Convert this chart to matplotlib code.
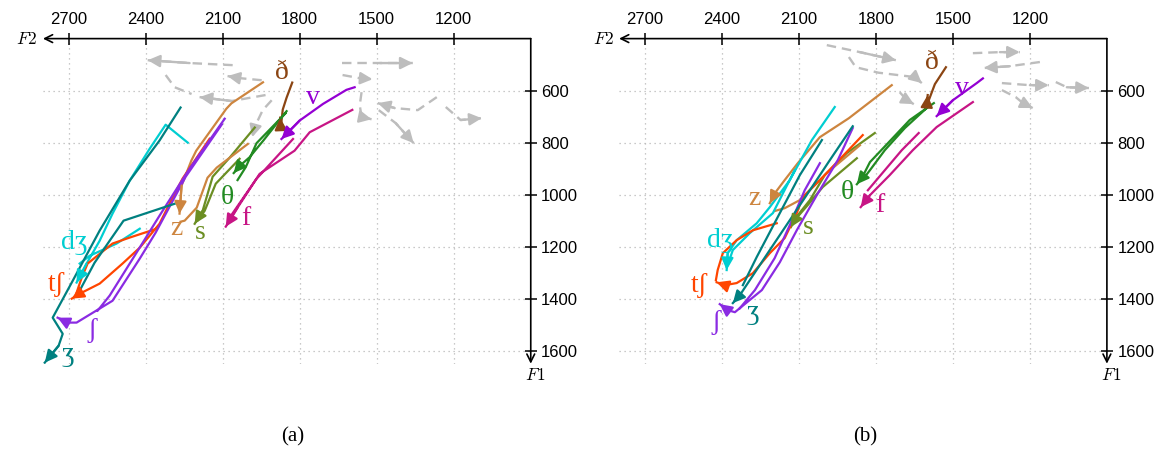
import numpy as np
import matplotlib
matplotlib.use("Agg")
import matplotlib.pyplot as plt

NAN = (np.nan, np.nan)

# F2 / F1 ticks (Hz)
F2_TICKS = [2700, 2400, 2100, 1800, 1500, 1200]
F1_TICKS = [600, 800, 1000, 1200, 1400, 1600]

PHONEMES = ['ð', 'v', 'f', 'θ', 's', 'z', 'dʒ', 'tʃ', 'ʃ', 'ʒ']

# ---- panel (a): trajectories as (F2, F1) pairs, arrow at the last point
A_DH = [(1829, 569), (1851, 627), (1866, 673), (1874, 746), (1876, 704)]
A_V = [(1586, 587), (1618, 597), (1709, 651), (1800, 715), (1871, 786)]
A_F = [(1826, 786), (1969, 940), (2065, 1077), NAN,
       (1595, 674), (1761, 760), (1820, 831), (1956, 920), (2042, 1050), (2088, 1123)]
A_TH = [(1855, 687), (1968, 802), (2010, 894), (2042, 944), NAN,
        (1851, 679), (1940, 790), (1995, 856), (2034, 890), (2057, 917)]
A_S = [(2034, 862), (2127, 958), (2170, 1062), (2198, 1100), NAN,
       (1975, 742), (2073, 858), (2139, 931), (2178, 1062), (2209, 1112)]
A_Z = [(2002, 805), (2123, 896), (2159, 935), (2201, 1050), (2248, 1100), (2264, 1104), NAN,
       (1943, 568), (2066, 649), (2086, 670), (2203, 831), (2222, 869), (2260, 965), (2268, 1073)]
A_DZH = [(2423, 1131), (2513, 1188), (2618, 1235), (2657, 1265), NAN,
         (2236, 800), (2322, 731), (2384, 823), (2462, 946), (2529, 1073), (2579, 1177),
         (2630, 1265), (2669, 1338)]
A_TSH = [(2357, 1131), (2462, 1165), (2529, 1188), (2626, 1265), (2649, 1319), (2669, 1377), NAN,
         (2151, 785), (2256, 938), (2307, 1035), (2346, 1112), (2423, 1204), (2490, 1265),
         (2579, 1342), (2657, 1381), (2688, 1400)]
A_SH = [(2092, 708), (2229, 900), (2346, 1081), (2443, 1235), (2540, 1388), (2587, 1446), NAN,
        (2104, 731), (2244, 931), (2361, 1146), (2423, 1246), (2529, 1408), (2669, 1492),
        (2704, 1492), (2743, 1473)]
A_ZH = [(2287, 1035), (2486, 1100), (2540, 1177), (2599, 1262), (2657, 1369), NAN,
        (2264, 665), (2346, 792), (2462, 946), (2579, 1138), (2684, 1331), (2762, 1473),
        (2723, 1535), (2739, 1581), (2793, 1646)]

# vowel trajectories (grey dashed), panel (a)
A_GREY = [
    [(2061, 502), (2229, 494), (2392, 483)],
    [(1948, 560), (2034, 552), (2081, 544)],
    [(2322, 540), (2287, 587), (2221, 613), NAN, (1933, 617), (2065, 640), (2190, 625)],
    [(1909, 637), (1944, 675), (1972, 733), (1985, 779)],
    [(1637, 494), (1488, 494), (1360, 494)],
    [(1633, 540), (1567, 552), (1516, 556)],
    [(1559, 606), (1566, 656), (1559, 702), (1520, 710)],
    [(1266, 625), (1340, 675), (1430, 667), (1496, 648)],
    [(1492, 675), (1426, 725), (1356, 802)],
    [(1231, 663), (1173, 713), (1091, 706)],
]

# ---- panel (b)
B_DH = [(1527, 510), (1570, 575), (1601, 656), (1598, 617)]
B_V = [(1383, 553), (1407, 571), (1500, 637), (1563, 698)]
B_F = [(1633, 763), (1699, 829), (1765, 906), (1831, 983), NAN,
       (1422, 644), (1563, 740), (1656, 829), (1746, 925), (1823, 1002), (1859, 1048)]
B_TH = [(1590, 656), (1687, 744), (1765, 829), (1823, 906), (1847, 937), NAN,
        (1574, 648), (1668, 713), (1753, 802), (1823, 875), (1855, 937), (1874, 960)]
B_S = [(1874, 860), (2007, 971), (2065, 1040), (2116, 1098), NAN,
       (1804, 763), (1913, 840), (1999, 925), (2057, 1021), (2104, 1079), (2131, 1125)]
B_Z = [(1862, 810), (1991, 917), (2096, 1021), (2155, 1052), (2194, 1063), NAN,
       (1738, 579), (1905, 706), (2018, 779), (2104, 879), (2155, 944), (2190, 990), (2213, 1033)]
B_DZH = [(2116, 906), (2201, 1071), (2291, 1148), (2357, 1213), (2377, 1271), NAN,
         (1960, 663), (2049, 790), (2135, 944), (2213, 1048), (2264, 1110), (2342, 1175),
         (2377, 1225), (2381, 1290)]
B_TSH = [(2186, 1110), (2279, 1137), (2342, 1175), (2396, 1225), (2416, 1290), (2423, 1329), NAN,
         (1851, 771), (2007, 933), (2085, 1010), (2108, 1071), (2155, 1167), (2213, 1225),
         (2279, 1302), (2342, 1340), (2388, 1348), (2420, 1337)]
B_SH = [(2018, 879), (2077, 983), (2135, 1117), (2194, 1244), (2271, 1367), (2330, 1437), NAN,
        (1890, 744), (1948, 867), (2030, 1002), (2108, 1137), (2174, 1260), (2244, 1367),
        (2349, 1452), (2377, 1444), (2408, 1421)]
B_ZH = [(2010, 790), (2096, 925), (2174, 1071), (2264, 1240), (2318, 1348), NAN,
        (1890, 737), (1979, 867), (2057, 983), (2135, 1098), (2213, 1213), (2291, 1329),
        (2330, 1387), (2357, 1417)]

B_GREY = [
    [(1991, 425), (1862, 452), (1722, 483)],
    [(1905, 471), (1878, 510), (1790, 531), (1648, 548), (1621, 571)],
    [(1707, 606), (1679, 637), (1652, 652)],
    [(1422, 456), (1317, 452), (1239, 452)],
    [(1161, 490), (1278, 506), (1379, 513)],
    [(1309, 571), (1200, 579), (1126, 579)],
    [(1099, 567), (1056, 587), (970, 590)],
    [(1309, 598), (1255, 625), (1227, 648), (1189, 667)],
]

A_TRAJ = [A_DH, A_V, A_F, A_TH, A_S, A_Z, A_DZH, A_TSH, A_SH, A_ZH]
B_TRAJ = [B_DH, B_V, B_F, B_TH, B_S, B_Z, B_DZH, B_TSH, B_SH, B_ZH]

COLORS = ['#8b4513', '#9400d3', '#c71585', '#228b22', '#6b8e23',
          '#cd853f', '#00ced1', '#ff4500', '#8a2be2', '#008080']

# label positions (F2, F1)
A_LABEL_POS = [(1870, 529), (1750, 625), (2010, 1090), (2081, 1010), (2186, 1144),
               (2279, 1129), (2677, 1183), (2747, 1344), (2610, 1521), (2704, 1613)]
B_LABEL_POS = [(1582, 490), (1465, 590), (1785, 1040), (1909, 990), (2065, 1125),
               (2275, 1013), (2408, 1175), (2486, 1348), (2423, 1490), (2279, 1452)]

SERIF = ['Liberation Serif', 'DejaVu Serif']


def draw_path(ax, pts, color, dashed=False, lw=1.6):
    p = np.array(pts, dtype=float)
    if dashed:
        ax.plot(p[:, 0], p[:, 1], color=color, lw=lw, ls=(0, (4, 2.5)), zorder=1)
    else:
        ax.plot(p[:, 0], p[:, 1], color=color, lw=lw, solid_joinstyle='round', zorder=3)
    ax.annotate('', xy=p[-1], xytext=p[-2],
                arrowprops=dict(arrowstyle='-|>', color=color, lw=lw, mutation_scale=18,
                                shrinkA=0, shrinkB=0),
                zorder=4 if not dashed else 2)


def setup_axes(ax):
    ax.set_xlim(2800, 900)
    ax.set_ylim(1650, 400)
    for sp in ax.spines.values():
        sp.set_visible(False)
    ax.set_xticks(F2_TICKS)
    ax.set_yticks(F1_TICKS)
    ax.xaxis.tick_top()
    ax.yaxis.tick_right()
    ax.tick_params(axis='both', direction='inout', length=9, width=1.1,
                   labelsize=12, colors='black')
    ax.tick_params(axis='x', pad=4)
    ax.tick_params(axis='y', pad=3)
    for lab in ax.get_xticklabels() + ax.get_yticklabels():
        lab.set_family('Liberation Sans')
    ax.grid(True, ls=(0, (1, 3)), color='#b8b8b8', lw=0.9)
    # axis lines with arrows
    ax.annotate('', xy=(0, 1), xytext=(1, 1), xycoords='axes fraction',
                arrowprops=dict(arrowstyle='->', lw=1.2, color='black', shrinkA=0,
                                shrinkB=0, mutation_scale=14), annotation_clip=False)
    ax.annotate('', xy=(1, 0), xytext=(1, 1), xycoords='axes fraction',
                arrowprops=dict(arrowstyle='->', lw=1.2, color='black', shrinkA=0,
                                shrinkB=0, mutation_scale=14), annotation_clip=False)
    ax.annotate('$F2$', xy=(0, 1), xycoords='axes fraction', xytext=(-4, 0),
                textcoords='offset points', ha='right', va='center', fontsize=12.5)
    ax.annotate('$F1$', xy=(1, 0), xycoords='axes fraction', xytext=(3, -2),
                textcoords='offset points', ha='center', va='top', fontsize=12.5)


plt.rcParams['mathtext.fontset'] = 'cm'
fig = plt.figure(figsize=(11.67, 4.49), dpi=100)
ax_a = fig.add_axes([0.0368, 0.190, 0.418, 0.724])
ax_b = fig.add_axes([0.5305, 0.190, 0.418, 0.724])

for ax, trajs, greys, lpos in [(ax_a, A_TRAJ, A_GREY, A_LABEL_POS),
                               (ax_b, B_TRAJ, B_GREY, B_LABEL_POS)]:
    setup_axes(ax)
    for g in greys:
        draw_path(ax, g, '#bdbdbd', dashed=True, lw=1.7)
    for tr, col in zip(trajs, COLORS):
        draw_path(ax, tr, col)
    for name, col, (x, y) in zip(PHONEMES, COLORS, lpos):
        ax.text(x, y, name, color=col, fontsize=20, family=SERIF,
                ha='center', va='center', zorder=5)

fig.text(293 / 1167, 1 - 437 / 449, '(a)', ha='center', va='center', fontsize=15, family=SERIF)
fig.text(865 / 1167, 1 - 437 / 449, '(b)', ha='center', va='center', fontsize=15, family=SERIF)

fig.savefig('out.png', dpi=100)
